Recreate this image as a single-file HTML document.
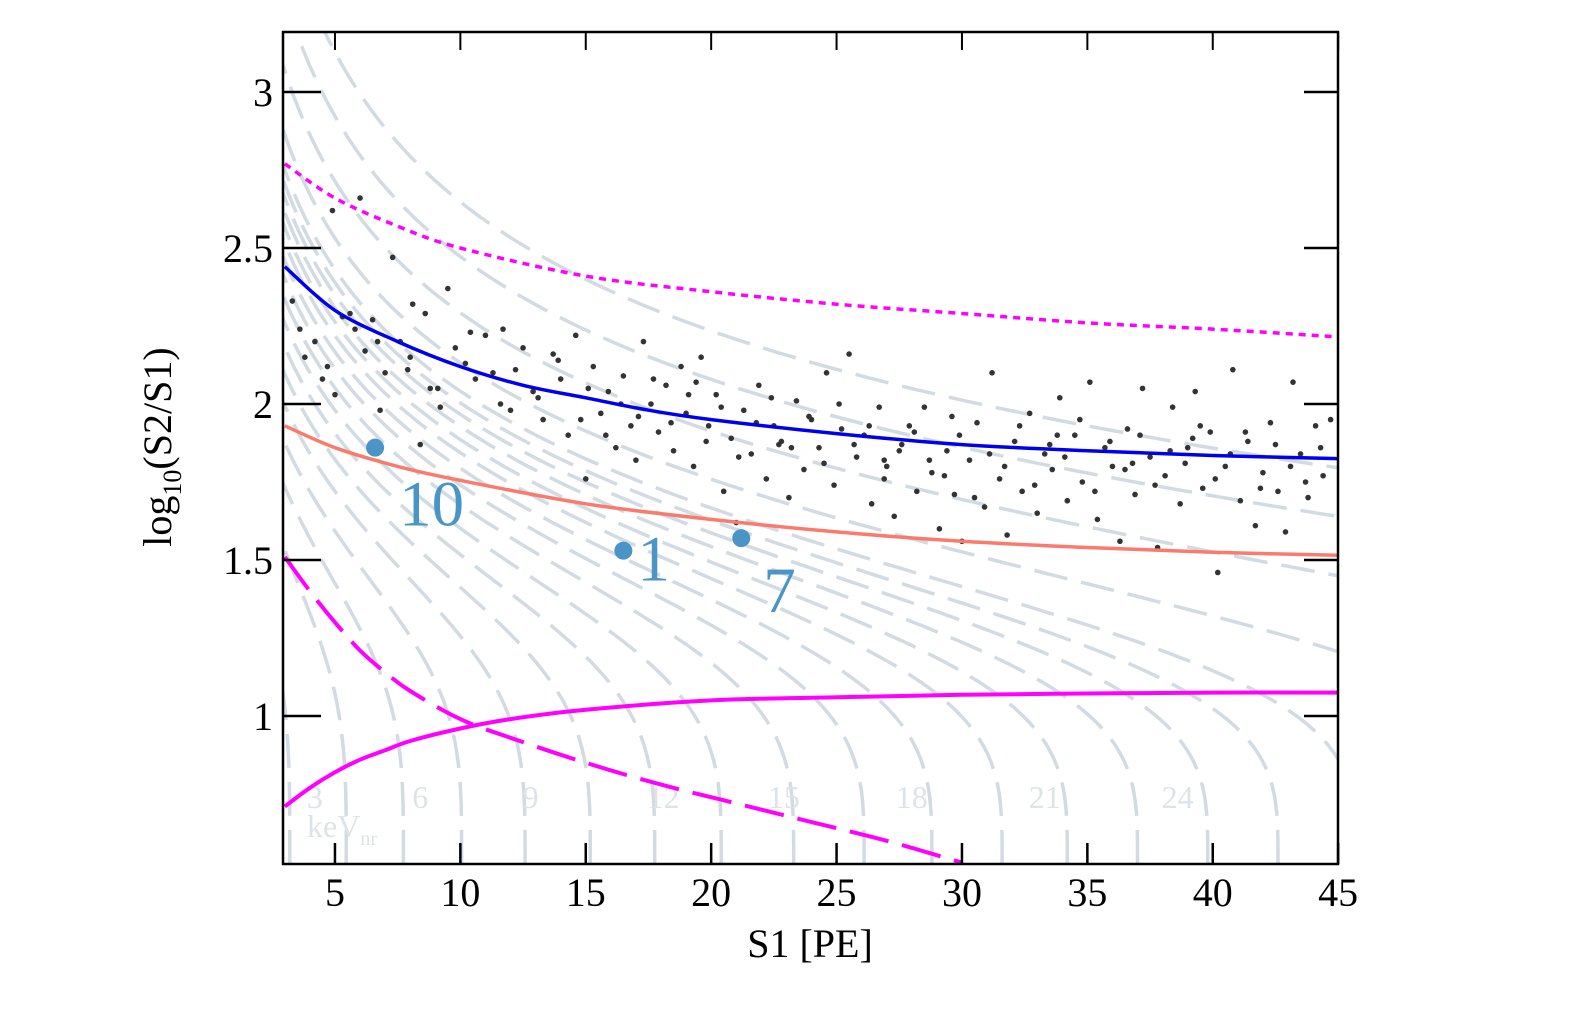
<!DOCTYPE html>
<html><head><meta charset="utf-8"><style>
html,body{margin:0;padding:0;background:#fff;overflow:hidden;width:1576px;height:1018px;}
svg{display:block;position:absolute;left:0;top:0;font-family:"Liberation Serif",serif;}
</style></head><body>
<svg id="chart" width="1576" height="1018" viewBox="0 0 1576 1018">
<defs><clipPath id="clip"><rect x="283" y="32" width="1055" height="832"/></clipPath></defs>
<g id="plot" clip-path="url(#clip)"></g>
<g id="axes"></g>
</svg>
<script>
const xTicks=[5,10,15,20,25,30,35,40,45];
const yTicks=[1,1.5,2,2.5,3];
const yTickLabels=["1","1.5","2","2.5","3"];
const isoEnds=[3.2,5.45,7.73,10.05,12.58,15.18,17.75,20.4,23.29,26.1,28.8,31.6,34.2,37.0,39.8,42.6,45.7,54,72,98,130];
const isoLabels=["3","6","9","12","15","18","21","24"];
const isoLabelX=[4.2,8.4,12.8,18.1,22.9,28.0,33.3,38.6];
const blueX=[3,5,7.5,10,12.5,15,17.5,20,25,30,35,40,45];
const blueY=[2.44,2.3,2.2,2.12,2.06,2.02,1.98,1.95,1.905,1.87,1.85,1.835,1.825];
const salX=[3,5,7.5,10,15,20,25,30,35,40,45];
const salY=[1.93,1.86,1.8,1.755,1.68,1.63,1.59,1.56,1.54,1.525,1.515];
const dotX=[3,5,7.5,10,15,20,25,30,35,40,45];
const dotY=[2.77,2.66,2.57,2.5,2.41,2.36,2.32,2.29,2.26,2.24,2.215];
const solX=[3,4,5,6,7,8,10,12,15,20,25,30,35,40,45];
const solY=[0.71,0.77,0.82,0.86,0.89,0.92,0.96,0.99,1.02,1.05,1.06,1.068,1.072,1.075,1.075];
const dashX=[3,4,5,6,7,8,10,12,15,18,21,24,27,30];
const dashY=[1.51,1.4,1.3,1.21,1.14,1.08,0.99,0.93,0.85,0.78,0.72,0.66,0.6,0.53];
const ptX=[3.3,3.8,4.2,4.5,4.9,5,5.3,5.6,6,6.2,6.5,6.8,7,7.3,7.6,8,8.1,8.4,8.8,9.2,9.5,9.8,10.2,10.6,11,11.3,11.7,12,12.5,12.9,13.3,13.7,14,14.3,14.6,15,15.3,15.6,15.9,16.2,16.5,16.8,17,17.3,17.6,17.9,18.2,18.5,18.8,19,19.3,19.6,19.9,20.2,20.5,20.8,21,21.3,21.6,21.9,22.2,22.5,22.8,23.1,23.4,23.7,24,24.3,24.6,24.9,25.2,25.5,25.8,26.1,26.4,26.7,27,27.3,27.6,27.9,28.2,28.5,28.8,29.1,29.4,29.7,30,30.3,30.6,30.9,31.2,31.5,31.8,32.1,32.4,32.7,33,33.3,33.6,33.9,34.2,34.5,34.8,35.1,35.4,35.7,36,36.3,36.6,36.9,37.2,37.5,37.8,38.1,38.4,38.7,39,39.3,39.6,39.9,40.2,40.5,40.8,41.1,41.4,41.7,42,42.3,42.6,42.9,43.2,43.5,43.8,44.1,44.4,44.7,
15.1,15.8,16.4,17.1,17.7,18.4,19.1,19.8,20.4,21.1,21.8,22.4,23.2,23.9,24.5,25.1,25.7,26.3,26.9,27.5,28.1,28.7,29.3,29.9,30.5,31.1,31.7,32.3,32.9,33.5,34.1,34.7,35.3,35.9,36.5,37.1,37.7,38.3,38.9,39.5,40.1,40.7,41.3,41.9,42.5,43.1,43.7,44.3,12.2,13.1,13.9,14.8,11.6,10.4,9.1,8.6,7.9,6.7,5.8,4.7,3.6,19.4,22.7,26.9,29.6,33.8,36.8,39.2];
const ptY=[2.33,2.15,2.2,2.08,2.62,2.03,2.28,2.29,2.66,2.17,2.27,1.98,2.1,2.47,2.2,2.15,2.32,1.87,2.05,1.99,2.37,2.18,2.13,2.08,2.22,2.1,2.24,1.98,2.18,2.04,1.95,2.16,2.08,1.9,2.22,1.76,2.12,1.97,2.04,1.86,2.09,1.93,1.82,2.2,2.0,1.91,2.06,1.85,2.12,1.97,1.8,2.15,1.93,2.03,1.72,1.89,1.62,1.98,1.84,2.06,1.76,1.93,1.88,1.7,2.01,1.79,1.95,1.86,2.1,1.74,1.92,2.16,1.83,1.9,1.68,1.99,1.8,1.64,1.87,1.93,1.72,1.99,1.78,1.6,1.85,1.71,1.56,1.82,1.94,1.67,2.1,1.76,1.58,1.88,1.72,1.97,1.65,1.84,1.79,2.02,1.69,1.9,1.75,2.07,1.63,1.86,1.8,1.56,1.92,1.71,2.05,1.83,1.54,1.77,1.99,1.68,1.86,2.04,1.73,1.91,1.46,1.8,2.11,1.69,1.88,1.61,1.78,1.94,1.72,1.59,2.07,1.84,1.7,1.93,1.77,1.95,
2.05,1.9,2.0,1.96,2.08,1.94,2.03,1.88,1.99,1.83,1.94,2.02,1.86,1.96,1.81,2.0,1.87,1.93,1.76,1.85,1.91,1.82,1.77,1.9,1.7,1.84,1.8,1.93,1.74,1.87,1.83,1.95,1.72,1.88,1.79,1.9,1.74,1.85,1.81,1.93,1.76,1.84,1.91,1.73,1.87,1.8,1.75,1.86,2.11,2.02,2.14,1.95,2.0,2.23,2.05,2.29,2.11,2.2,2.24,2.12,2.24,2.07,1.87,1.82,1.96,1.9,1.81,1.89];
const hiX=[6.6,16.5,21.2];
const hiY=[1.86,1.53,1.57];
const hiLabels=["10","1","7"];

const NS="http://www.w3.org/2000/svg";
const X0=284.8,XS=25.08,Y0=716,YS=312;
function sx(v){return X0+(v-3)*XS;}
function sy(v){return Y0-(v-1)*YS;}
const plot=document.getElementById('plot'),axes=document.getElementById('axes');
function mk(t,a,p){const e=document.createElementNS(NS,t);for(const k in a)e.setAttribute(k,a[k]);(p||plot).appendChild(e);return e;}
function smooth(xs,ys){
  const P=xs.map((x,i)=>[sx(x),sy(ys[i])]);
  let d='M'+P[0][0].toFixed(1)+' '+P[0][1].toFixed(1);
  for(let i=0;i<P.length-1;i++){
    const p0=P[Math.max(0,i-1)],p1=P[i],p2=P[i+1],p3=P[Math.min(P.length-1,i+2)];
    const c1=[p1[0]+(p2[0]-p0[0])/6,p1[1]+(p2[1]-p0[1])/6];
    const c2=[p2[0]-(p3[0]-p1[0])/6,p2[1]-(p3[1]-p1[1])/6];
    d+=' C'+c1.map(v=>v.toFixed(1)).join(' ')+' '+c2.map(v=>v.toFixed(1)).join(' ')+' '+p2[0].toFixed(1)+' '+p2[1].toFixed(1);
  }
  return d;
}

// iso-energy curves: x(y) = x0 / (1 + a*(y-yb)^p)
const YB=0.526,AA=0.8,PP=3.6;
isoEnds.forEach((x0,i)=>{
  let d='';
  for(let k=0;k<=300;k++){const y=YB+k*(3.3-YB)/300;const u=y-YB;
    const x=x0/(1+AA*Math.pow(u,PP));
    d+=(d?'L':'M')+sx(x).toFixed(1)+' '+sy(y).toFixed(1);}
  const p=mk('path',{d:d,fill:'none',stroke:'#d3dbe2','stroke-width':3.5,'stroke-dasharray':'34 14'});
  
  
});
isoLabels.forEach((l,i)=>{
  const t=mk('text',{x:sx(isoLabelX[i]),y:808,'font-size':32,fill:'#dde3e8','text-anchor':'middle'});t.textContent=l;
  
  
});
const kv=mk('text',{x:307,y:837,'font-size':32,fill:'#dde3e8'});kv.innerHTML='keV<tspan font-size="20" dy="8">nr</tspan>';



// points
ptX.forEach((x,i)=>{const c=mk('circle',{cx:sx(x),cy:sy(ptY[i]),r:2.8,fill:'#333'});
  
  });

function line(xs,ys,col,w,dash,name){const p=mk('path',{d:smooth(xs,ys),fill:'none',stroke:col,'stroke-width':w});if(dash)p.setAttribute('stroke-dasharray',dash);
  
  }
line(dotX,dotY,'#ff00ff',3.5,'7 6','upper-dotted-line');
line(blueX,blueY,'#0000ee',3.5,null,'median-band-line');
line(salX,salY,'#fa7a6e',3.5,null,'lower-band-line');
line(solX,solY,'#ff00ff',4,null,'threshold-solid-line');
line(dashX,dashY,'#ff00ff',4,'40 14','threshold-dashed-line');

hiX.forEach((x,i)=>{const c=mk('circle',{cx:sx(x),cy:sy(hiY[i]),r:9,fill:'#4a95c6'});
  
  
  const off=[[24,78],[14,30],[22,74]][i];
  const t=mk('text',{x:sx(x)+off[0],y:sy(hiY[i])+off[1],'font-size':65,fill:'#4a95c6'});t.textContent=hiLabels[i];
  
  });

// axes
mk('rect',{x:283,y:32,width:1055,height:832,fill:'none',stroke:'#000','stroke-width':2.5},axes);
xTicks.forEach(v=>{mk('line',{x1:sx(v),x2:sx(v),y1:864,y2:843,stroke:'#000','stroke-width':2.5},axes);
  mk('line',{x1:sx(v),x2:sx(v),y1:32,y2:50,stroke:'#000','stroke-width':2},axes);
  const t=mk('text',{x:sx(v),y:906,'font-size':40,'text-anchor':'middle'},axes);t.textContent=v;
  
  });
yTicks.forEach((v,i)=>{mk('line',{x1:283,x2:321,y1:sy(v),y2:sy(v),stroke:'#000','stroke-width':2.5},axes);
  mk('line',{x1:1304,x2:1338,y1:sy(v),y2:sy(v),stroke:'#000','stroke-width':2.5},axes);
  const t=mk('text',{x:273,y:sy(v)+14,'font-size':40,'text-anchor':'end'},axes);t.textContent=yTickLabels[i];
  
  });
const xl=mk('text',{x:810,y:957,'font-size':40,'text-anchor':'middle'},axes);xl.textContent='S1 [PE]';


const yl=mk('text',{x:0,y:0,'font-size':40,'text-anchor':'middle',transform:'translate(171,447) rotate(-90)'},axes);
yl.innerHTML='log<tspan font-size="26" dy="10">10</tspan><tspan dy="-10">(S2/S1)</tspan>';


</script>
</body></html>
